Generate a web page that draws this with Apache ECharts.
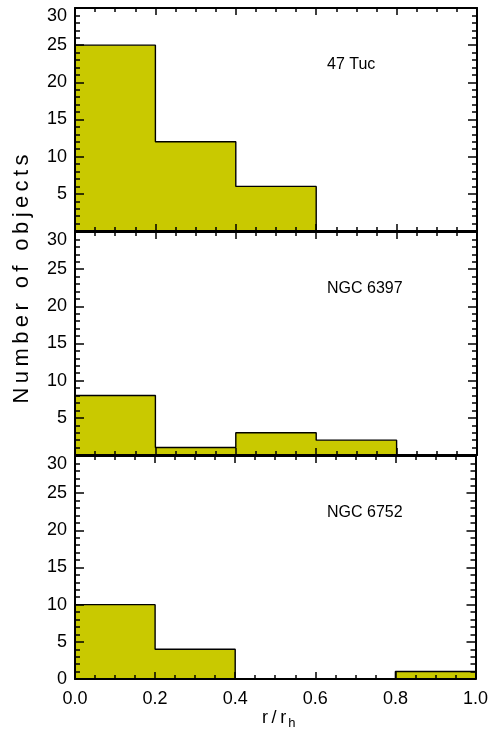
<!DOCTYPE html>
<html>
<head>
<meta charset="utf-8">
<script src="https://cdn.jsdelivr.net/npm/echarts@6/dist/echarts.min.js"></script>
<style>
  html, body { margin: 0; padding: 0; background: #ffffff; }
  #chart { width: 491px; height: 735px; }
</style>
</head>
<body>
<div id="chart"></div>
<script>
// Histogram bins in units of r / r_h
const binEdges = [0.0, 0.2, 0.4, 0.6, 0.8, 1.0];

// Number of objects per bin for each cluster
const counts47Tuc   = [25, 12, 6, 0, 0];
const countsNGC6397 = [8, 1, 3, 2, 0];
const countsNGC6752 = [10, 4, 0, 0, 1];

const clusterNames = ['47 Tuc', 'NGC 6397', 'NGC 6752'];
const clusterCounts = [counts47Tuc, countsNGC6397, countsNGC6752];

// Axis settings
const xRange = [0, 1];
const xStep = 0.2;
const yRange = [0, 30];
const yStep = 5;

const FONT = '"Liberation Sans", Arial, Helvetica, sans-serif';
const FILL = '#c9c900';

// Layout of the stacked panels
const panelLeft = 75;
const panelRight = 14;
const panelTops = [8, 232, 456];
const panelHeight = 223;

// Turn bin counts into an outlined step curve (psym=10 style)
function stepPoints(edges, counts) {
  const pts = [];
  for (let i = 0; i < counts.length; i++) {
    pts.push([edges[i], counts[i]]);
    pts.push([edges[i + 1], counts[i]]);
  }
  return pts;
}

const grids = [], xAxes = [], yAxes = [], series = [], titles = [];

clusterCounts.forEach((counts, i) => {
  const isBottom = i === clusterCounts.length - 1;
  grids.push({ left: panelLeft, right: panelRight, top: panelTops[i], height: panelHeight });

  const axisLine = { show: true, onZero: false, lineStyle: { color: '#000', width: 2 } };

  // Box frame: bottom and top x axes, left and right y axes, all with inward ticks
  ['bottom', 'top'].forEach(pos => {
    xAxes.push({
      type: 'value', gridIndex: i, position: pos, z: 10,
      min: xRange[0], max: xRange[1], interval: xStep,
      axisLine,
      axisTick: { show: true, inside: true, length: 7, lineStyle: { color: '#000', width: 1.5 } },
      minorTick: { show: true, splitNumber: 4, length: 4, lineStyle: { color: '#000', width: 1.5 } },
      splitLine: { show: false },
      minorSplitLine: { show: false },
      axisLabel: {
        show: isBottom && pos === 'bottom',
        margin: 11,
        color: '#000', fontSize: 18, fontFamily: FONT,
        formatter: v => v.toFixed(1)
      }
    });
  });

  ['left', 'right'].forEach(pos => {
    yAxes.push({
      type: 'value', gridIndex: i, position: pos, z: 10,
      min: yRange[0], max: yRange[1], interval: yStep,
      axisLine,
      axisTick: { show: true, inside: true, length: 9, lineStyle: { color: '#000', width: 1.5 } },
      minorTick: { show: true, splitNumber: 5, length: 5, lineStyle: { color: '#000', width: 1.5 } },
      splitLine: { show: false },
      minorSplitLine: { show: false },
      axisLabel: {
        show: pos === 'left',
        margin: 8,
        color: '#000', fontSize: 18, fontFamily: FONT,
        formatter: v => {
          if (v === 0 && !isBottom) return '';
          if (v === yRange[1]) return '{top|' + v + '}';
          return String(v);
        },
        rich: { top: { fontSize: 18, fontFamily: FONT, color: '#000', padding: [16, 0, 0, 0] } }
      }
    });
  });

  series.push({
    type: 'line',
    xAxisIndex: 2 * i,
    yAxisIndex: 2 * i,
    data: stepPoints(binEdges, counts),
    symbol: 'none',
    silent: true,
    animation: false,
    lineStyle: { color: '#000', width: 1.4 },
    areaStyle: { color: FILL, opacity: 1 },
    z: 2
  });

  titles.push({
    text: clusterNames[i],
    left: 327,
    top: panelTops[i] + 49,
    padding: 0,
    textStyle: { fontSize: 16, fontWeight: 'normal', fontFamily: FONT, color: '#000' }
  });
});

const yTitle = 'Number of objects';

const option = {
  backgroundColor: '#ffffff',
  animation: false,
  title: titles,
  grid: grids,
  xAxis: xAxes,
  yAxis: yAxes,
  series: series,
  graphic: [
    {
      type: 'text',
      x: 22, y: 279,
      rotation: Math.PI / 2,
      style: {
        text: yTitle.split('').join('\u2009'),
        align: 'center', verticalAlign: 'middle',
        fontSize: 22, fontFamily: FONT, fill: '#000'
      }
    },
    {
      type: 'text',
      x: 262, y: 706,
      style: {
        text: '{m|r\u2009/\u2009r}{s|h}',
        rich: {
          m: { fontSize: 18, fontFamily: FONT, fill: '#000', lineHeight: 24, verticalAlign: 'middle' },
          s: { fontSize: 13, fontFamily: FONT, fill: '#000', lineHeight: 13, verticalAlign: 'bottom', padding: [0, 0, 0, 2] }
        }
      }
    }
  ]
};

const chart = echarts.init(document.getElementById('chart'), null, { renderer: 'canvas' });
chart.setOption(option);
</script>
</body>
</html>
